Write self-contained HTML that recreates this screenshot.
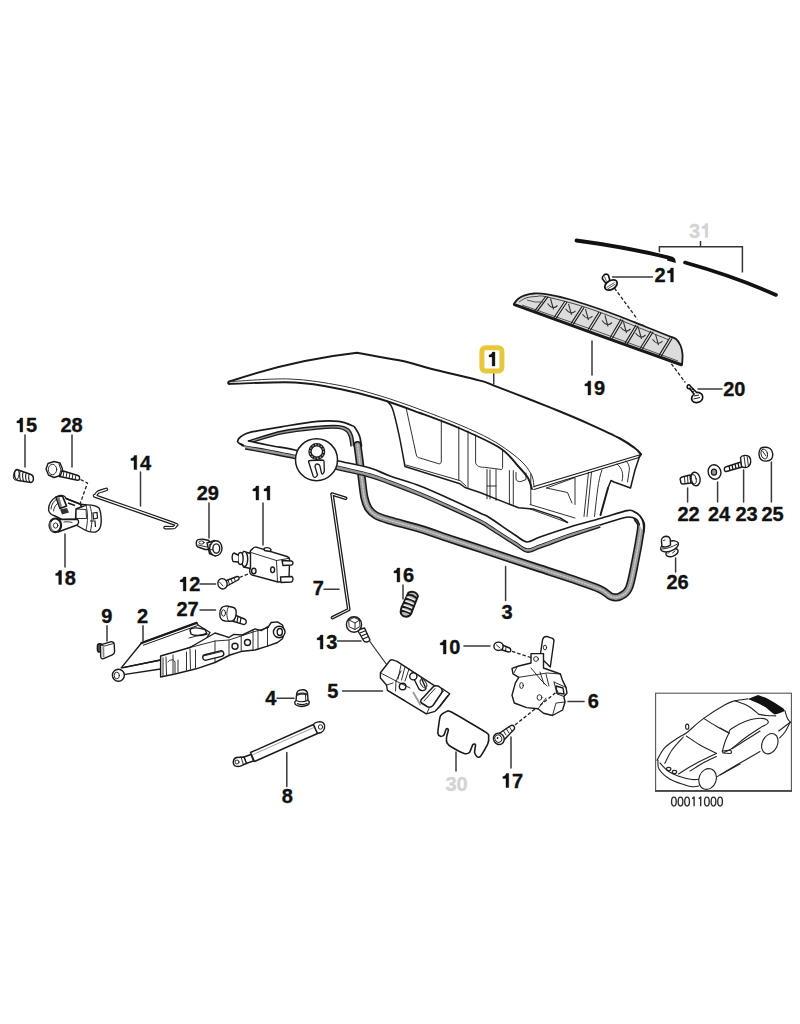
<!DOCTYPE html>
<html><head><meta charset="utf-8">
<style>
html,body{margin:0;padding:0;background:#fff;}
body{width:800px;height:1024px;overflow:hidden;}
svg{display:block;}
.lb text{font-family:"Liberation Sans",sans-serif;font-weight:bold;font-size:20px;text-anchor:start;fill:#111;}
.ld{stroke:#3a3a3a;stroke-width:1.5;fill:none;stroke-linecap:round;}
.k{stroke:#1a1a1a;fill:none;stroke-width:1.3;stroke-linejoin:round;stroke-linecap:round;}
.kf{stroke:#1a1a1a;fill:#fff;stroke-width:1.3;stroke-linejoin:round;stroke-linecap:round;}
.t{stroke:#1a1a1a;fill:none;stroke-width:0.8;stroke-linejoin:round;stroke-linecap:round;}
</style></head>
<body>
<svg width="800" height="1024" viewBox="0 0 800 1024">
<path d="M387.5 401.3 C388.3 402.6 390.6 403.4 392.5 408.8 C394.4 414.2 396.7 424.2 398.8 433.8 C400.9 443.4 404.0 461.1 405.0 466.5 L460 483.8 L465 487.5 L480 492.5 L518.4 507.8 L533 508.9 L560 517.9 L567.5 522.5" stroke="#1a1a1a" fill="none" stroke-width="1.5" stroke-linejoin="round" stroke-linecap="round"/>
<path d="M406 465 L460 480.6 L466 486" stroke="#1a1a1a" fill="none" stroke-width="0.9" stroke-linejoin="round" stroke-linecap="round"/>
<path d="M406.3 408.8 L416.3 455 C417 457 418 457.5 419 457.7 L438.8 463.8 C440.5 464 441.3 463 441.3 461 L441.3 420" stroke="#1a1a1a" fill="none" stroke-width="0.9" stroke-linejoin="round" stroke-linecap="round" stroke-width="1.1"/>
<path d="M458.8 426.9 V480 M468 431 V487.5" stroke="#1a1a1a" fill="none" stroke-width="0.9" stroke-linejoin="round" stroke-linecap="round"/>
<path d="M475.6 435 V462.8 C476 466 480 467.5 484.6 467.3 L501.5 469.5 C502.5 469 502.6 468 502.6 467 V449.3" stroke="#1a1a1a" fill="none" stroke-width="0.9" stroke-linejoin="round" stroke-linecap="round" stroke-width="1.2"/>
<path d="M487 469.5 V498.8 M490 470 V499 M496 469.5 V500.5 M487 486 H496 M509.4 470.6 V504.4 M513.3 470.6 V504.4 M530.8 474 V504.4" stroke="#1a1a1a" fill="none" stroke-width="0.9" stroke-linejoin="round" stroke-linecap="round" stroke-width="0.8"/>
<path d="M516 472.5 V479 C516 481 519 482 521 481.5 L526 479.5 V473" stroke="#1a1a1a" fill="none" stroke-width="0.9" stroke-linejoin="round" stroke-linecap="round"/>
<path d="M639.5 456.5 L635 470 L630.5 488 L614 482 L611 480.5 L608 488" stroke="#1a1a1a" fill="none" stroke-width="1.5" stroke-linejoin="round" stroke-linecap="round"/>
<path d="M608 488 L600.5 515" stroke="#1a1a1a" fill="none" stroke-width="2" stroke-linejoin="round" stroke-linecap="round"/>
<path d="M626 461 C629 464 630 468 629 472 L627.5 482 M617 464 C622 468 624 474 622 481 M546.5 488 L575 477.5 L575 504.5 M546.5 488 L567.5 492.5 L572 503 M588.5 472.3 L584 516.5 M591.5 472.3 L587 516.5 M602 470 C598 480 597 495 594.5 516.5" stroke="#1a1a1a" fill="none" stroke-width="0.9" stroke-linejoin="round" stroke-linecap="round"/>
<path d="M530 504.5 L575 518 M530 509 L567.5 522.5" stroke="#1a1a1a" fill="none" stroke-width="0.9" stroke-linejoin="round" stroke-linecap="round" stroke-width="1.1"/><path d="M576.5 240.5 C610 245 645 251.5 672 258.5" stroke="#111" stroke-width="3.8" fill="none" stroke-linecap="round"/>
<path d="M668 256 L675 258.5 L676 263 L667 260.5 Z" fill="#111"/>
<path d="M685 262.5 C715 271 745 281 776 295" stroke="#111" stroke-width="3.6" fill="none" stroke-linecap="round"/>
<path d="M229.5 381.5 Q293.2 360 357 352.8  C360.8 353.5 372.0 355.6 380.0 357.0 C388.0 358.4 396.7 359.6 405.0 361.5 C413.3 363.4 417.5 365.3 430.0 368.5 C442.5 371.7 469.3 377.8 480.0 380.6 C490.7 383.5 485.7 382.5 494.0 385.6 C502.3 388.8 519.0 395.2 530.0 399.5 C541.0 403.8 550.0 407.4 560.0 411.5 C570.0 415.6 580.0 419.8 590.0 424.3 C600.0 428.8 612.5 434.5 620.0 438.5 C627.5 442.5 631.5 445.7 635.0 448.3 C638.5 450.9 640.0 453.3 641.0 454.3" stroke="#1a1a1a" stroke-width="2.0" fill="none" stroke-linejoin="round" stroke-linecap="round" />
<path d="M231.0 381.5 C240.8 381.1 271.8 378.3 290.0 379.0 C308.2 379.7 325.0 382.7 340.0 385.5 C355.0 388.3 366.7 391.8 380.0 395.8 C393.3 399.8 406.7 404.6 420.0 409.5 C433.3 414.4 448.3 420.1 460.0 425.0 C471.7 429.9 481.7 434.5 490.0 439.0 C498.3 443.5 504.3 447.8 510.0 452.0 C515.7 456.2 520.3 460.0 524.0 464.0 C527.7 468.0 530.3 472.2 532.0 476.0 C533.7 479.8 533.7 485.2 534.0 487.0" stroke="#333" stroke-width="1.0" fill="none" stroke-linejoin="round" stroke-linecap="round" />
<path d="M231.0 383.8 C241.7 383.6 276.8 381.6 295.0 382.5 C313.2 383.4 325.8 386.2 340.0 389.0 C354.2 391.8 366.7 395.0 380.0 399.0 C393.3 403.0 406.7 408.1 420.0 413.0 C433.3 417.9 446.7 422.7 460.0 428.5 C473.3 434.3 490.3 441.8 500.0 448.0 C509.7 454.2 513.3 461.0 518.0 466.0 C522.7 471.0 525.7 474.2 528.0 478.0 C530.3 481.8 531.3 487.2 532.0 489.0" stroke="#1a1a1a" stroke-width="1.9" fill="none" stroke-linejoin="round" stroke-linecap="round" />
<path d="M229 381.5 C227.5 382.5 228 384 230 384" stroke="#1a1a1a" stroke-width="2.0" fill="none" stroke-linejoin="round" stroke-linecap="round" />
<path d="M534.0 486.5 L641.0 454.5 L639.0 457.5 L534.0 489.5" stroke="#1a1a1a" stroke-width="1.3" fill="none" stroke-linejoin="round" stroke-linecap="round" />
<path d="M641 454.5 L639.5 456.5" stroke="#1a1a1a" stroke-width="1.6" fill="none" stroke-linejoin="round" stroke-linecap="round" />
<path d="M357.5 445.0 C357.8 447.5 358.8 454.2 359.5 460.0 C360.2 465.8 361.2 473.7 362.0 480.0 C362.8 486.3 363.4 493.2 364.5 498.0 C365.6 502.8 366.6 505.6 368.5 508.5 C370.4 511.4 372.4 513.5 376.0 515.5 C379.6 517.5 382.7 518.3 390.0 520.5 C397.3 522.7 410.0 525.8 420.0 528.8 C430.0 531.8 440.0 535.5 450.0 538.8 C460.0 542.1 470.0 545.4 480.0 548.7 C490.0 552.0 500.0 555.3 510.0 558.6 C520.0 561.9 530.0 565.2 540.0 568.5 C550.0 571.8 560.0 574.9 570.0 578.4 C580.0 581.9 593.2 586.2 600.0 589.2 C606.8 592.2 607.7 595.3 611.0 596.5 C614.3 597.7 617.0 597.9 620.0 596.5 C623.0 595.1 626.4 594.1 629.0 588.0 C631.6 581.9 633.6 569.3 635.5 560.0 C637.4 550.7 639.6 538.0 640.5 532.0 C641.4 526.0 641.4 526.2 641.0 524.0 C640.6 521.8 638.5 519.8 638.0 519.0" stroke="#1a1a1a" stroke-width="8.2" fill="none" stroke-linejoin="round" stroke-linecap="round" />
<path d="M357.5 445.0 C357.8 447.5 358.8 454.2 359.5 460.0 C360.2 465.8 361.2 473.7 362.0 480.0 C362.8 486.3 363.4 493.2 364.5 498.0 C365.6 502.8 366.6 505.6 368.5 508.5 C370.4 511.4 372.4 513.5 376.0 515.5 C379.6 517.5 382.7 518.3 390.0 520.5 C397.3 522.7 410.0 525.8 420.0 528.8 C430.0 531.8 440.0 535.5 450.0 538.8 C460.0 542.1 470.0 545.4 480.0 548.7 C490.0 552.0 500.0 555.3 510.0 558.6 C520.0 561.9 530.0 565.2 540.0 568.5 C550.0 571.8 560.0 574.9 570.0 578.4 C580.0 581.9 593.2 586.2 600.0 589.2 C606.8 592.2 607.7 595.3 611.0 596.5 C614.3 597.7 617.0 597.9 620.0 596.5 C623.0 595.1 626.4 594.1 629.0 588.0 C631.6 581.9 633.6 569.3 635.5 560.0 C637.4 550.7 639.6 538.0 640.5 532.0 C641.4 526.0 641.4 526.2 641.0 524.0 C640.6 521.8 638.5 519.8 638.0 519.0" stroke="#999" stroke-width="5.0" fill="none" stroke-linejoin="round" stroke-linecap="round" />
<path d="M357.5 445.0 C357.8 447.5 358.8 454.2 359.5 460.0 C360.2 465.8 361.2 473.7 362.0 480.0 C362.8 486.3 363.4 493.2 364.5 498.0 C365.6 502.8 366.6 505.6 368.5 508.5 C370.4 511.4 372.4 513.5 376.0 515.5 C379.6 517.5 382.7 518.3 390.0 520.5 C397.3 522.7 410.0 525.8 420.0 528.8 C430.0 531.8 440.0 535.5 450.0 538.8 C460.0 542.1 470.0 545.4 480.0 548.7 C490.0 552.0 500.0 555.3 510.0 558.6 C520.0 561.9 530.0 565.2 540.0 568.5 C550.0 571.8 560.0 574.9 570.0 578.4 C580.0 581.9 593.2 586.2 600.0 589.2 C606.8 592.2 607.7 595.3 611.0 596.5 C614.3 597.7 617.0 597.9 620.0 596.5 C623.0 595.1 626.4 594.1 629.0 588.0 C631.6 581.9 633.6 569.3 635.5 560.0 C637.4 550.7 639.6 538.0 640.5 532.0 C641.4 526.0 641.4 526.2 641.0 524.0 C640.6 521.8 638.5 519.8 638.0 519.0" stroke="#c8c8c8" stroke-width="1.4" fill="none" stroke-linejoin="round" stroke-linecap="round" stroke-dasharray="1.6 1.6"/>
<path d="M248.5 440.8 C254.2 439.2 271.0 433.4 282.5 431.0 C294.0 428.6 308.2 427.3 317.5 426.4 C326.8 425.5 333.3 425.2 338.5 425.6 C343.7 426.0 346.2 427.3 348.5 429.0 C350.8 430.7 351.6 433.2 352.5 436.0 C353.4 438.8 353.8 444.3 354.0 446.0 L351 446 351.0 446.0 C350.8 444.5 350.2 439.4 349.5 437.0 C348.8 434.6 348.3 432.9 346.5 431.5 C344.7 430.1 343.3 428.7 338.5 428.3 C333.7 427.9 326.8 428.1 317.5 429.0 C308.2 429.9 293.6 431.3 282.5 433.6 C271.4 435.9 256.2 441.1 251.0 442.6Z" fill="#9a9a9a" stroke="none"/>
<path d="M361.5 446.0 C361.2 444.3 360.5 438.9 359.5 436.0 C358.5 433.1 356.7 430.2 355.5 428.5 C354.3 426.8 355.3 426.9 352.5 425.8 C349.7 424.6 344.3 422.1 338.5 421.4 C332.7 420.7 326.8 420.5 317.5 421.4 C308.2 422.3 293.6 424.8 282.5 426.6 C271.4 428.4 257.7 430.6 250.8 432.2 C243.8 433.9 243.2 435.0 241.0 436.5 C238.8 438.0 237.8 439.8 237.6 441.0 C237.3 442.2 238.6 442.8 239.5 443.5 C240.4 444.2 242.4 444.8 243.0 445.0" stroke="#1a1a1a" stroke-width="1.7" fill="none" stroke-linejoin="round" stroke-linecap="round" />
<path d="M248.5 440.8 C254.2 439.2 271.0 433.4 282.5 431.0 C294.0 428.6 308.2 427.3 317.5 426.4 C326.8 425.5 333.3 425.2 338.5 425.6 C343.7 426.0 346.2 427.3 348.5 429.0 C350.8 430.7 351.6 433.2 352.5 436.0 C353.4 438.8 353.8 444.3 354.0 446.0" stroke="#1a1a1a" stroke-width="1.4" fill="none" stroke-linejoin="round" stroke-linecap="round" />
<path d="M251.0 442.6 C256.2 441.1 271.4 435.9 282.5 433.6 C293.6 431.3 308.2 429.9 317.5 429.0 C326.8 428.1 333.7 427.9 338.5 428.3 C343.3 428.7 344.7 430.1 346.5 431.5 C348.3 432.9 348.8 434.6 349.5 437.0 C350.2 439.4 350.8 444.5 351.0 446.0" stroke="#1a1a1a" stroke-width="1.3" fill="none" stroke-linejoin="round" stroke-linecap="round" />
<path d="M643.7 532.0 C643.6 530.5 643.9 525.7 643.3 523.0 C642.7 520.3 641.5 517.9 640.0 516.0 C638.5 514.1 636.2 512.5 634.0 511.6 C631.8 510.7 632.7 509.5 627.0 510.6 C621.3 511.8 609.5 515.8 600.0 518.5 C590.5 521.2 580.0 523.9 570.0 527.0 C560.0 530.1 547.2 534.5 540.0 537.0 C532.8 539.5 531.2 542.3 527.0 542.0 C522.8 541.7 521.2 539.0 515.0 535.0 C508.8 531.0 495.8 521.7 490.0 518.0 C484.2 514.3 486.7 516.2 480.0 513.0 C473.3 509.8 460.0 503.5 450.0 499.0 C440.0 494.5 430.0 489.8 420.0 486.0 C410.0 482.2 398.3 479.0 390.0 476.0 C381.7 473.0 378.6 470.5 370.0 468.0 C361.4 465.5 347.5 463.0 338.5 461.0 C329.5 459.0 323.3 457.8 316.0 456.0 C308.7 454.2 302.4 451.8 294.8 450.0 C287.1 448.2 277.7 447.0 270.0 445.5 C262.3 444.0 252.1 441.8 248.5 441.0 L243 445 243.0 445.0 C243.2 445.2 239.5 445.1 244.0 446.0 C248.5 446.9 261.5 448.9 270.0 450.5 C278.5 452.1 287.1 453.8 294.8 455.5 C302.4 457.2 308.7 459.2 316.0 461.0 C323.3 462.8 329.5 464.3 338.5 466.5 C347.5 468.7 361.4 471.6 370.0 474.0 C378.6 476.4 381.7 477.9 390.0 481.0 C398.3 484.1 410.0 488.6 420.0 492.8 C430.0 496.9 440.0 501.5 450.0 506.0 C460.0 510.5 473.3 516.7 480.0 520.0 C486.7 523.3 484.2 522.3 490.0 526.0 C495.8 529.7 508.8 538.2 515.0 542.0 C521.2 545.8 522.8 548.5 527.0 549.0 C531.2 549.5 532.8 547.5 540.0 545.0 C547.2 542.5 560.0 537.3 570.0 534.0 C580.0 530.7 590.6 527.8 600.0 525.0 C609.4 522.2 620.5 518.2 626.5 517.2 C632.5 516.2 634.1 518.0 636.2 519.3 C638.4 520.5 638.9 523.8 639.4 524.7Z" fill="#fff" stroke="none"/>
<path d="M643.7 532.0 C643.6 530.5 643.9 525.7 643.3 523.0 C642.7 520.3 641.5 517.9 640.0 516.0 C638.5 514.1 636.2 512.5 634.0 511.6 C631.8 510.7 632.7 509.5 627.0 510.6 C621.3 511.8 609.5 515.8 600.0 518.5 C590.5 521.2 580.0 523.9 570.0 527.0 C560.0 530.1 547.2 534.5 540.0 537.0 C532.8 539.5 531.2 542.3 527.0 542.0 C522.8 541.7 521.2 539.0 515.0 535.0 C508.8 531.0 495.8 521.7 490.0 518.0 C484.2 514.3 486.7 516.2 480.0 513.0 C473.3 509.8 460.0 503.5 450.0 499.0 C440.0 494.5 430.0 489.8 420.0 486.0 C410.0 482.2 398.3 479.0 390.0 476.0 C381.7 473.0 378.6 470.5 370.0 468.0 C361.4 465.5 347.5 463.0 338.5 461.0 C329.5 459.0 323.3 457.8 316.0 456.0 C308.7 454.2 302.4 451.8 294.8 450.0 C287.1 448.2 277.7 447.0 270.0 445.5 C262.3 444.0 252.1 441.8 248.5 441.0" stroke="#1a1a1a" stroke-width="1.7" fill="none" stroke-linejoin="round" stroke-linecap="round" />
<path d="M639.4 524.7 C638.9 523.8 638.4 520.5 636.2 519.3 C634.1 518.0 632.5 516.2 626.5 517.2 C620.5 518.2 609.4 522.2 600.0 525.0 C590.6 527.8 580.0 530.7 570.0 534.0 C560.0 537.3 547.2 542.5 540.0 545.0 C532.8 547.5 531.2 549.5 527.0 549.0 C522.8 548.5 521.2 545.8 515.0 542.0 C508.8 538.2 495.8 529.7 490.0 526.0 C484.2 522.3 486.7 523.3 480.0 520.0 C473.3 516.7 460.0 510.5 450.0 506.0 C440.0 501.5 430.0 496.9 420.0 492.8 C410.0 488.6 398.3 484.1 390.0 481.0 C381.7 477.9 378.6 476.4 370.0 474.0 C361.4 471.6 347.5 468.7 338.5 466.5 C329.5 464.3 323.3 462.8 316.0 461.0 C308.7 459.2 302.4 457.2 294.8 455.5 C287.1 453.8 278.5 452.1 270.0 450.5 C261.5 448.9 248.5 446.9 244.0 446.0 C239.5 445.1 243.2 445.2 243.0 445.0" stroke="#1a1a1a" stroke-width="1.6" fill="none" stroke-linejoin="round" stroke-linecap="round" />
<path d="M600.0 525.0 C595.0 526.5 580.0 530.7 570.0 534.0 C560.0 537.3 547.2 542.5 540.0 545.0 C532.8 547.5 531.2 549.5 527.0 549.0 C522.8 548.5 521.2 545.8 515.0 542.0 C508.8 538.2 495.8 529.7 490.0 526.0 C484.2 522.3 486.7 523.3 480.0 520.0 C473.3 516.7 460.0 510.5 450.0 506.0 C440.0 501.5 430.0 496.9 420.0 492.8 C410.0 488.6 398.3 484.1 390.0 481.0 C381.7 477.9 378.6 476.4 370.0 474.0 C361.4 471.6 347.5 468.7 338.5 466.5 C329.5 464.3 323.3 462.8 316.0 461.0 C308.7 459.2 302.4 457.2 294.8 455.5 C287.1 453.8 278.5 452.1 270.0 450.5 C261.5 448.9 248.3 446.8 244.0 446.0 L245.5 449 245.5 449.0 C249.6 449.8 261.8 452.0 270.0 453.6 C278.2 455.2 287.1 456.8 294.8 458.6 C302.4 460.4 308.7 462.3 316.0 464.2 C323.3 466.1 329.5 467.6 338.5 469.8 C347.5 472.0 361.4 474.9 370.0 477.3 C378.6 479.7 381.7 481.2 390.0 484.3 C398.3 487.4 410.0 491.9 420.0 496.0 C430.0 500.1 440.0 504.7 450.0 509.2 C460.0 513.7 473.3 519.9 480.0 523.2 C486.7 526.5 484.2 525.5 490.0 529.2 C495.8 532.9 508.8 541.4 515.0 545.2 C521.2 549.0 522.8 551.7 527.0 552.2 C531.2 552.7 532.8 550.7 540.0 548.2 C547.2 545.7 560.0 540.7 570.0 537.2 C580.0 533.7 595.0 528.9 600.0 527.2Z" fill="#9a9a9a" stroke="none"/>
<path d="M600.0 527.2 C595.0 528.9 580.0 533.7 570.0 537.2 C560.0 540.7 547.2 545.7 540.0 548.2 C532.8 550.7 531.2 552.7 527.0 552.2 C522.8 551.7 521.2 549.0 515.0 545.2 C508.8 541.4 495.8 532.9 490.0 529.2 C484.2 525.5 486.7 526.5 480.0 523.2 C473.3 519.9 460.0 513.7 450.0 509.2 C440.0 504.7 430.0 500.1 420.0 496.0 C410.0 491.9 398.3 487.4 390.0 484.3 C381.7 481.2 378.6 479.7 370.0 477.3 C361.4 474.9 347.5 472.0 338.5 469.8 C329.5 467.6 323.3 466.1 316.0 464.2 C308.7 462.3 302.4 460.4 294.8 458.6 C287.1 456.8 278.2 455.2 270.0 453.6 C261.8 452.0 249.6 449.8 245.5 449.0" stroke="#1a1a1a" stroke-width="1.3" fill="none" stroke-linejoin="round" stroke-linecap="round" />
<circle cx="316.5" cy="459.7" r="21" fill="#fff" stroke="#1a1a1a" stroke-width="1.5"/>
<circle cx="316.8" cy="451.5" r="6.8" fill="none" stroke="#1a1a1a" stroke-width="3.4"/>
<circle cx="316.8" cy="451.5" r="6.8" fill="none" stroke="#aaa" stroke-width="1.2" stroke-dasharray="1.5 1.5"/>
<path d="M308.5 461.5 L313.2 476.3 C314 477.8 316 478 317.5 475 L315 466.6 C315.2 464.5 316.5 463.8 317.2 464 C318.8 464.2 319.6 465 319.8 465.6 L321.5 473.2 C322 474.5 323.5 474.5 324.3 471 L324 461 C323.5 460 322.5 460 321.5 460 L310.5 460.5 C309 460.7 308.3 461 308.5 461.5Z" fill="#fff" stroke="#1a1a1a" stroke-width="1.3" stroke-linejoin="round"/>
<path d="M513.8 304.0 C514.5 303.2 516.3 300.4 518.0 299.0 C519.7 297.6 521.3 296.5 524.0 295.6 C526.7 294.7 530.1 293.7 534.0 293.5 C537.9 293.3 541.5 293.4 547.5 294.4 C553.5 295.4 562.1 297.3 570.0 299.5 C577.9 301.7 586.7 304.7 595.0 307.5 C603.3 310.3 611.7 313.3 620.0 316.5 C628.3 319.7 636.7 323.2 645.0 326.5 C653.3 329.8 665.8 334.8 670.0 336.5 L670.0 336.5 C671.0 336.9 674.2 337.5 676.0 339.0 C677.8 340.5 679.4 343.0 680.5 345.5 C681.6 348.0 682.2 350.8 682.5 354.0 C682.8 357.2 682.1 363.2 682.0 365.0 L595 333.8 L513.75 304.4Z" fill="#dcdcdc" stroke="#1a1a1a" stroke-width="1.8" stroke-linejoin="round"/>
<path d="M682 365 L595 333.8 L513.75 304.4" stroke="#1a1a1a" stroke-width="3" fill="none"/>
<path d="M519.0 302.0 C520.2 301.3 523.2 298.9 526.0 298.0 C528.8 297.1 532.3 296.6 536.0 296.5 C539.7 296.4 538.2 294.9 548.0 297.2 C557.8 299.5 575.0 303.4 595.0 310.5 C615.0 317.6 655.8 334.7 668.0 339.5" stroke="#333" stroke-width="0.9" fill="none"/>
<path d="M522 305 L595 330.5 L678 361" stroke="#444" stroke-width="0.9" fill="none"/>
<path d="M546 296L535.0 310.6M548.2 296.7L537.2 311.4M565 301L554.0 317.5M567.2 301.7L556.2 318.3M582 306.5L571.0 323.6M584.2 307.2L573.2 324.4M599 312L588.0 329.7M601.2 312.7L590.2 330.5M621 319L610.0 337.7M623.2 319.7L612.2 338.5M636 325L625.0 343.1M638.2 325.7L627.2 343.9M651 331L640.0 348.5M653.2 331.7L642.2 349.3M670 337.5L659.0 355.4M672.2 338.2L661.2 356.2" stroke="#1a1a1a" stroke-width="1.1" fill="none"/>
<path d="M547.5 303.5Q552.5 310.5 557.5 305.5M550.5 298.5L553.5 309.5M565.5 308.8Q570.5 315.8 575.5 310.8M568.5 303.8L571.5 314.8M582.5 314.2Q587.5 321.2 592.5 316.2M585.5 309.2L588.5 320.2M602.0 320.5Q607.0 327.5 612.0 322.5M605.0 315.5L608.0 326.5M620.5 327.0Q625.5 334.0 630.5 329.0M623.5 322.0L626.5 333.0M635.5 333.0Q640.5 340.0 645.5 335.0M638.5 328.0L641.5 339.0M652.5 339.2Q657.5 346.2 662.5 341.2M655.5 334.2L658.5 345.2" stroke="#333" stroke-width="1.1" fill="none"/>
<path d="M527 300 Q535 303 543 302" stroke="#444" stroke-width="0.9" fill="none"/>
<path d="M614.4 288 L637.5 319.4" stroke="#222" stroke-width="1.3" stroke-dasharray="3.5 2" fill="none"/>
<path d="M671.4 363.8 L685.3 382.5" stroke="#222" stroke-width="1.3" stroke-dasharray="3.5 2" fill="none"/>
<path d="M603.5 275.5 C605 273.5 607.5 273.8 608.5 275.5 L610 281 L606 283.5 L602.5 279 C602 277.5 602.5 276.3 603.5 275.5Z" fill="#fff" stroke="#111" stroke-width="1.6" stroke-linejoin="round"/>
<ellipse cx="611" cy="285" rx="6.8" ry="4.3" transform="rotate(-32 611 285)" fill="#fff" stroke="#111" stroke-width="1.8"/>
<path d="M606.5 287.5 L614.5 282.5 M607.5 289 L615.5 284" stroke="#444" stroke-width="0.9" fill="none"/>
<path d="M604.5 276.5 L606.5 281.5" stroke="#444" stroke-width="0.9" fill="none"/>
<path d="M688 385 C686.5 386.5 687 389 689.5 388.5 L694 394 C692 396 691 399 692.5 401 C694.5 403.5 699 403 701.5 400.5 C703.5 398 703 394.5 700.5 393.2 C699 392.3 697.5 392.3 696.8 392.5 L690.5 386.2 C690 385 689 384.5 688 385Z" fill="#fff" stroke="#111" stroke-width="1.6"/>
<path d="M689.5 389 L692 387.2 M691 390.5 L693.5 388.7 M692.5 392 L695 390.3 M694 396 L699 395 M693.5 399 L700 397.5" stroke="#222" stroke-width="1" fill="none"/><path d="M17 469.5 L31 474.5 C34 475.5 34.5 481.5 31 482.5 L18 480.5 C13.5 479.5 13.5 470 17 469.5Z" stroke="#1a1a1a" fill="#fff" stroke-width="1.4" stroke-linejoin="round" stroke-linecap="round"/>
<ellipse cx="16.3" cy="475" rx="2.8" ry="5.2" transform="rotate(12 16.3 475)" stroke="#1a1a1a" fill="none" stroke-width="0.9" stroke-linejoin="round" stroke-linecap="round"/>
<path d="M20.5 470.5 C19 473 19.5 479 21 481 M23.5 471.5 C22 474 22.5 479.5 24 481.5 M26.5 472.5 C25 475 25.5 480 27 482 M29.5 473.5 C28 476 28.5 480.5 30 482.3" stroke="#222" stroke-width="1.1" fill="none"/>
<path d="M60 470 L78 475.5 C80.5 476.5 80 480.5 77.5 480.3 L59.5 476.5Z" stroke="#1a1a1a" fill="#fff" stroke-width="1.4" stroke-linejoin="round" stroke-linecap="round"/>
<path d="M64 471 L63 477 M67 472 L66 478 M70 473 L69 479 M73 474 L72 479.5 M76 475 L75 480" stroke="#222" stroke-width="1" fill="none"/>
<path d="M48 463.5 L54 461.5 L60 463 L62.5 469 L60.5 475.5 L54 477.5 L48.5 475 L46 469Z" stroke="#1a1a1a" fill="#fff" stroke-width="1.4" stroke-linejoin="round" stroke-linecap="round" stroke-width="1.6"/>
<ellipse cx="52.5" cy="469.5" rx="4.2" ry="5.2" stroke="#1a1a1a" fill="none" stroke-width="0.9" stroke-linejoin="round" stroke-linecap="round"/>
<path d="M59 464 L61 470 L59 476" stroke="#1a1a1a" fill="none" stroke-width="0.9" stroke-linejoin="round" stroke-linecap="round"/>
<path d="M80.5 479.5 L87.5 483 L80 504 L79 507" stroke="#222" stroke-width="1.3" stroke-dasharray="3.5 2" fill="none"/>
<path d="M84 505 C90 504.5 96 505.5 99 508 C100.5 511 101.3 516 101.2 522 C101 527.5 99 531 95.5 532 C91 532.5 87.5 531.5 85 530 L76 525 L75.5 509 Z" stroke="#1a1a1a" fill="#fff" stroke-width="1.4" stroke-linejoin="round" stroke-linecap="round" stroke-width="1.8"/>
<path d="M86 505.5 C88 512 88 522 86 530 M90 506 C92.5 513 92.5 523 90.5 531 M75.5 509 L86 509.5 L86.5 518.5 L76 518.5" stroke="#1a1a1a" fill="none" stroke-width="0.9" stroke-linejoin="round" stroke-linecap="round" stroke-width="1.1"/>
<path d="M93 513 L97 512.5 L97.5 518 L93.5 519Z M90 521 L95 521 L95.5 527" fill="none" stroke="#1a1a1a" stroke-width="1.2"/>
<path d="M48.6 510 C48.5 505 51 500 56 497 L60 495.5 C63 495 65.5 496.5 66 498.5 L80 504 L86 505 L76 509 L75.5 519 L62 519.5 L55 516 C51.5 515 49 513 48.6 510Z" stroke="#1a1a1a" fill="#fff" stroke-width="1.4" stroke-linejoin="round" stroke-linecap="round" stroke-width="1.8"/>
<path d="M51 509 C51.5 504 54 500.5 57 499 M53.5 511 C54 507 56 504 58.5 503" stroke="#1a1a1a" fill="none" stroke-width="0.9" stroke-linejoin="round" stroke-linecap="round" stroke-width="1.1"/>
<path d="M56 497 L62.5 496 L66.5 506 L60 508.5 Z" fill="#fff" stroke="#1a1a1a" stroke-width="1.7" stroke-linejoin="round"/>
<path d="M57 498 L59.5 497.5 L62 506.5 L60 507.5 Z" fill="#777"/>
<path d="M60 509.5 L67 508 L69 512.5 L62 514.5 Z" fill="#333"/>
<path d="M66 498.5 L80 504 L82 507 M68 503 L75 505.5" stroke="#1a1a1a" stroke-width="1.5" fill="none"/>
<path d="M57 519.5 L77.5 519.5 C79 520.5 79 524 77 525 L58 532 Z" stroke="#1a1a1a" fill="#fff" stroke-width="1.4" stroke-linejoin="round" stroke-linecap="round" stroke-width="1.6"/>
<path d="M64 522 C67 521.5 70 521.8 72 522.5" stroke="#1a1a1a" fill="none" stroke-width="0.9" stroke-linejoin="round" stroke-linecap="round"/>
<ellipse cx="55.3" cy="525.3" rx="5.8" ry="6.8" fill="#fff" stroke="#1a1a1a" stroke-width="2.2"/>
<path d="M50.5 522 C50 525 50.5 529 53 531" stroke="#777" stroke-width="1.6" fill="none"/>
<ellipse cx="55.6" cy="525.5" rx="2.2" ry="2.6" stroke="#1a1a1a" fill="none" stroke-width="0.9" stroke-linejoin="round" stroke-linecap="round" stroke-width="1.2"/>
<path d="M106.3 489.4 C105.5 489.7 99.0 491.6 98.0 492.2 C97.0 492.8 95.7 495.0 95.8 495.5 C95.9 496.0 91.4 494.8 99.0 497.5 C106.6 500.2 164.3 520.2 172.0 523.0 C179.7 525.8 175.7 524.7 175.8 525.2 C176.0 525.7 174.6 527.4 173.5 527.6 C172.4 527.8 165.8 527.6 165.0 527.6" stroke="#1a1a1a" stroke-width="3.6" fill="none" stroke-linejoin="round" stroke-linecap="round"/>
<path d="M106.3 489.4 C105.5 489.7 99.0 491.6 98.0 492.2 C97.0 492.8 95.7 495.0 95.8 495.5 C95.9 496.0 91.4 494.8 99.0 497.5 C106.6 500.2 164.3 520.2 172.0 523.0 C179.7 525.8 175.7 524.7 175.8 525.2 C176.0 525.7 174.6 527.4 173.5 527.6 C172.4 527.8 165.8 527.6 165.0 527.6" stroke="#fff" stroke-width="1.3" fill="none" stroke-linejoin="round" stroke-linecap="round"/>
<path d="M196.5 541.5 C197 539.5 200 539 203 539.2 L209 540.5 L211 549.5 L205 549.5 L198 547 C196.5 546.3 196 544 196.5 541.5Z" stroke="#1a1a1a" fill="#fff" stroke-width="1.4" stroke-linejoin="round" stroke-linecap="round" stroke-width="1.6"/>
<ellipse cx="201.5" cy="542.5" rx="2.6" ry="1.6" stroke="#1a1a1a" fill="none" stroke-width="0.9" stroke-linejoin="round" stroke-linecap="round" stroke-width="1.2"/>
<path d="M198 545 L207 547" stroke="#1a1a1a" fill="none" stroke-width="0.9" stroke-linejoin="round" stroke-linecap="round"/>
<path d="M207 543 L214.5 540.5 L215.5 556 L209.5 553.5 Z" stroke="#1a1a1a" fill="#fff" stroke-width="1.4" stroke-linejoin="round" stroke-linecap="round" stroke-width="1.6"/>
<ellipse cx="215.8" cy="548.3" rx="6.2" ry="7.6" stroke="#1a1a1a" fill="#fff" stroke-width="1.4" stroke-linejoin="round" stroke-linecap="round" stroke-width="2"/>
<ellipse cx="216.3" cy="548.5" rx="3.4" ry="4.6" stroke="#1a1a1a" fill="none" stroke-width="1.4" stroke-linejoin="round" stroke-linecap="round" stroke-width="1.5"/>
<path d="M209 545 L212 544 M209.5 550 L212.5 549.5" stroke="#1a1a1a" fill="none" stroke-width="0.9" stroke-linejoin="round" stroke-linecap="round"/>
<path d="M252.5 548.8 C253.5 547.3 255.5 547 257 547.3 L287 556.5 C289 557.2 289.8 558.5 289.6 560.5 L289 578.5 C288.8 580.5 287.5 581.5 285.5 581.5 L278 582 L252 575 C250.5 574.5 249.8 573.5 249.8 572 L250 553 C250 551 251 549.6 252.5 548.8Z" stroke="#1a1a1a" fill="#fff" stroke-width="1.4" stroke-linejoin="round" stroke-linecap="round" stroke-width="1.6"/>
<path d="M251 552.5 L276.5 560.5 L289.3 558.3 M276.5 560.5 L277.5 581.7" stroke="#1a1a1a" fill="none" stroke-width="0.9" stroke-linejoin="round" stroke-linecap="round" stroke-width="1.2"/>
<path d="M282 560.5 L291.5 561 C293.5 561.5 293.5 564.5 291.5 565 L283 565.5 Z M280.5 577 L291.5 576.5 C293.5 577 293.5 581 291.5 582 L281 582.5 Z" stroke="#1a1a1a" fill="#fff" stroke-width="1.4" stroke-linejoin="round" stroke-linecap="round" stroke-width="1.3"/>
<path d="M264 549 C264.5 547 270 547.3 271 549.5 L270.5 551.5 L264.5 550.5Z" stroke="#1a1a1a" fill="#fff" stroke-width="1.4" stroke-linejoin="round" stroke-linecap="round" stroke-width="1.2"/>
<ellipse cx="272.6" cy="569.8" rx="2" ry="2.8" stroke="#1a1a1a" fill="none" stroke-width="1.4" stroke-linejoin="round" stroke-linecap="round" stroke-width="1.2"/><ellipse cx="253.8" cy="571" rx="2.2" ry="2.8" stroke="#1a1a1a" fill="none" stroke-width="1.4" stroke-linejoin="round" stroke-linecap="round" stroke-width="1.3"/>
<path d="M243.5 551.5 L250.5 553.5 L250.5 568.5 L243.5 567 Z" stroke="#1a1a1a" fill="#fff" stroke-width="1.4" stroke-linejoin="round" stroke-linecap="round" stroke-width="1.3"/>
<ellipse cx="244.5" cy="559" rx="3.2" ry="7.6" stroke="#1a1a1a" fill="#fff" stroke-width="1.4" stroke-linejoin="round" stroke-linecap="round" stroke-width="1.6"/><ellipse cx="240.5" cy="558.5" rx="2.6" ry="6" stroke="#1a1a1a" fill="#fff" stroke-width="1.4" stroke-linejoin="round" stroke-linecap="round" stroke-width="1.4"/>
<path d="M238 555 L234 553 C232 553.5 231.5 558.5 233 561.5 L238 562" stroke="#1a1a1a" fill="#fff" stroke-width="1.4" stroke-linejoin="round" stroke-linecap="round" stroke-width="1.5"/>
<path d="M224 581.5 L237 576.5 C239.5 576 240 579 238 580 L226 586.5Z" stroke="#1a1a1a" fill="#fff" stroke-width="1.4" stroke-linejoin="round" stroke-linecap="round" stroke-width="1.2"/>
<path d="M228 580 L229.5 584.5 M231 578.8 L232.5 583 M234 577.6 L235.5 581.7" stroke="#1a1a1a" fill="none" stroke-width="0.9" stroke-linejoin="round" stroke-linecap="round"/>
<ellipse cx="222.5" cy="583.8" rx="4.6" ry="5.2" transform="rotate(-20 222.5 583.8)" stroke="#1a1a1a" fill="#fff" stroke-width="1.4" stroke-linejoin="round" stroke-linecap="round" stroke-width="2"/>
<path d="M219.5 582 L223 586" stroke="#1a1a1a" fill="none" stroke-width="0.9" stroke-linejoin="round" stroke-linecap="round"/>
<path d="M239.5 577.5 L249.5 573.5" stroke="#222" stroke-width="1.3" stroke-dasharray="3.5 2" fill="none"/>
<path d="M231 613.5 L244.5 619 C247 620 247 624 244 624.6 L230.5 620.5Z" stroke="#1a1a1a" fill="#fff" stroke-width="1.4" stroke-linejoin="round" stroke-linecap="round" stroke-width="1.4"/>
<path d="M235 615 L234 621 M238 616.3 L237 622.2 M241 617.6 L240 623.3" stroke="#1a1a1a" stroke-width="1.2" fill="none"/>
<path d="M221.5 608 C223 606 227 605.5 229.5 606.5 L233.5 607.5 C236 608.5 236.5 612 236 615 C235.5 618.5 233.5 621 230.5 621.3 L225 621 C221.5 620.5 219.8 617.5 219.8 614 C219.8 611 220.3 609.3 221.5 608Z" stroke="#1a1a1a" fill="#fff" stroke-width="1.4" stroke-linejoin="round" stroke-linecap="round" stroke-width="1.8"/>
<path d="M228.5 607 C226.5 609.5 226 617 228.5 620.8" stroke="#1a1a1a" fill="none" stroke-width="0.9" stroke-linejoin="round" stroke-linecap="round" stroke-width="1.2"/>
<ellipse cx="223.5" cy="613" rx="2" ry="3.2" stroke="#1a1a1a" fill="none" stroke-width="0.9" stroke-linejoin="round" stroke-linecap="round"/>
<path d="M97.5 645.5 C97.5 644 99 643.5 101 643.8 L101.5 652 L98.5 652 C97.5 651.5 97.3 650 97.4 648Z" fill="#555" stroke="#1a1a1a" stroke-width="1.5" stroke-linejoin="round"/>
<path d="M100.5 644.8 L110.5 641.8 C112.5 641.3 114 642.3 114.2 644.2 L114.6 651.5 C114.6 653 113.8 654.2 112.3 654.8 L103.5 658.6 C102 659.2 100.8 658.3 100.7 656.8 Z" stroke="#1a1a1a" fill="#fff" stroke-width="1.4" stroke-linejoin="round" stroke-linecap="round" stroke-width="1.8"/>
<path d="M103.3 646.5 L103.6 657.3" stroke="#888" stroke-width="1.8" fill="none"/>
<path d="M101 645 L104.5 646 L113.5 643.5" stroke="#1a1a1a" fill="none" stroke-width="0.9" stroke-linejoin="round" stroke-linecap="round"/>
<path d="M121.2 667.9 L141.5 643.0 L196.6 622.9 L198.0 625.0 L210.0 632.5 L205.0 641.0 L190.0 647.5 L160.6 660.0Z" stroke="#1a1a1a" fill="#fff" stroke-width="1.4" stroke-linejoin="round" stroke-linecap="round" stroke-width="1.3"/>
<path d="M141.5 643 L196.6 622.9" stroke="#1a1a1a" stroke-width="2.2" fill="none" stroke-linecap="round"/>
<path d="M143 645.3 L197.5 625.6" stroke="#1a1a1a" stroke-width="1" fill="none"/>
<path d="M190 630 C191 627.5 197 627 205 629.5 L207 634 C201 636 194 636 191 634 Z" stroke="#1a1a1a" fill="#fff" stroke-width="1.4" stroke-linejoin="round" stroke-linecap="round" stroke-width="1.2"/>
<path d="M189 638 L206 633.5" stroke="#1a1a1a" fill="none" stroke-width="0.9" stroke-linejoin="round" stroke-linecap="round"/>
<path d="M160.6 656.0 L190.0 647.5 L215.0 633.0 L225.0 636.2 L228.8 637.5 L233.8 634.4 L242.5 635.0 L255.0 628.8 L261.2 630.6 L268.8 626.2 L271.2 622.5 L277.5 621.9 L282.5 625.0 L284.4 631.2 L282.5 638.8 L277.5 642.5 L267.5 646.2 L255.0 650.0 L242.5 651.2 L230.0 655.0 L215.0 662.5 L196.2 668.8 L175.0 674.0 L160.6 677.0Z" stroke="#1a1a1a" fill="#fff" stroke-width="1.4" stroke-linejoin="round" stroke-linecap="round" stroke-width="1.6"/>
<path d="M163 657.8 L163 675.8 M166 657 L166.5 675 M173 655 L173 673.5 M186.5 652 L186.5 670 M190 649 L190.5 669 M195.5 650 L195.5 668 M215 641 L215 662.5 M229 640 L229 655 M241.2 636 L241.2 651.3 M253 630 L253 650 M258 631 L258 649.5 M267.5 627.5 L267.5 646.3 M190 647.5 L215 641 L229 640 L241.2 636 L253 632 L268.7 627.5" stroke="#1a1a1a" fill="none" stroke-width="0.9" stroke-linejoin="round" stroke-linecap="round" stroke-width="1"/>
<rect x="202.5" y="652.8" width="21.5" height="5.6" rx="2.8" transform="rotate(-14 213 655.5)" stroke="#1a1a1a" fill="#fff" stroke-width="1.4" stroke-linejoin="round" stroke-linecap="round" stroke-width="1.4"/>
<path d="M205 655.6 L221.5 651.6" stroke="#1a1a1a" fill="none" stroke-width="0.9" stroke-linejoin="round" stroke-linecap="round"/>
<circle cx="235" cy="646.3" r="3" stroke="#1a1a1a" fill="none" stroke-width="1.4" stroke-linejoin="round" stroke-linecap="round" stroke-width="1.2"/><circle cx="247.5" cy="642.5" r="3" stroke="#1a1a1a" fill="none" stroke-width="1.4" stroke-linejoin="round" stroke-linecap="round" stroke-width="1.2"/>
<circle cx="279.2" cy="632" r="5.8" stroke="#1a1a1a" fill="#fff" stroke-width="1.4" stroke-linejoin="round" stroke-linecap="round" stroke-width="1.7"/><ellipse cx="279.8" cy="632" rx="2.6" ry="3.5" stroke="#1a1a1a" fill="none" stroke-width="1.4" stroke-linejoin="round" stroke-linecap="round" stroke-width="1.3"/>
<path d="M122.4 667.9 L160.6 660 M123.5 674.6 L160.6 669" stroke="#1a1a1a" stroke-width="1.3" fill="none"/>
<circle cx="118.4" cy="675.2" r="6" stroke="#1a1a1a" fill="#fff" stroke-width="1.4" stroke-linejoin="round" stroke-linecap="round" stroke-width="1.7"/><ellipse cx="116.8" cy="675.5" rx="2.6" ry="3.4" stroke="#1a1a1a" fill="none" stroke-width="0.9" stroke-linejoin="round" stroke-linecap="round" stroke-width="1.1"/>
<path d="M168 662 C170 659 174 659 175 662 L175 673 M178 660 L178 672" stroke="#1a1a1a" fill="none" stroke-width="0.9" stroke-linejoin="round" stroke-linecap="round"/>
<path d="M297 692.5 C298 690.3 301.5 689.5 303.5 689.8 C306 690.2 307.5 692 307.6 694 L308 700.3 C309.8 701.3 309.7 704 307.6 705 C304 706.6 299 706.6 296.2 705 C294.3 704 294.3 701.5 296 700.5 L296.6 694.5 Z" stroke="#1a1a1a" fill="#fff" stroke-width="1.4" stroke-linejoin="round" stroke-linecap="round" stroke-width="2"/>
<path d="M297 693.5 C300 692 304.5 692 307.4 693.5 L307.5 695.5 C304.5 694.5 300 694.5 296.8 696 Z" fill="#333"/>
<path d="M296 700.5 C299.5 702 304.5 702 308 700.3 M297 703.5 C300 704.8 304.5 704.8 307.5 703.3" stroke="#1a1a1a" stroke-width="1.2" fill="none"/>
<path d="M305.5 694 L305.8 700.5" stroke="#1a1a1a" fill="none" stroke-width="0.9" stroke-linejoin="round" stroke-linecap="round"/>
<path d="M250.5 752.5 L313.5 724.5 L317.5 733.5 L254.5 761.5 Z" stroke="#1a1a1a" fill="#fff" stroke-width="1.4" stroke-linejoin="round" stroke-linecap="round" stroke-width="1.6"/>
<path d="M252 755 L315 727" stroke="#888" stroke-width="0.8" fill="none"/>
<path d="M313.5 724.5 C315 722 321 720.5 323.5 723 C326 726 324.5 731 321 732.5 L317.5 733.5 Z" stroke="#1a1a1a" fill="#fff" stroke-width="1.4" stroke-linejoin="round" stroke-linecap="round" stroke-width="1.5"/>
<circle cx="320.5" cy="727" r="2.2" stroke="#1a1a1a" fill="none" stroke-width="0.9" stroke-linejoin="round" stroke-linecap="round" stroke-width="1.1"/>
<path d="M244 757 L251 754.5 L253.5 761 L246 763.5 Z" stroke="#1a1a1a" fill="#fff" stroke-width="1.4" stroke-linejoin="round" stroke-linecap="round" stroke-width="1.3"/>
<path d="M236.5 757.5 C233 758.5 232 764 235 765.8 C237.5 767 241.5 766.5 243.5 764.5 L246.5 763.5 L244 757 Z" stroke="#1a1a1a" fill="#fff" stroke-width="1.4" stroke-linejoin="round" stroke-linecap="round" stroke-width="1.6"/>
<circle cx="237" cy="762" r="2" stroke="#1a1a1a" fill="none" stroke-width="0.9" stroke-linejoin="round" stroke-linecap="round" stroke-width="1.1"/><path d="M241 757 L243.5 765" stroke="#1a1a1a" fill="none" stroke-width="0.9" stroke-linejoin="round" stroke-linecap="round"/>
<path d="M357.5 630 L363.5 640.5 C365 643 369 642 370 640 L364.5 628Z" stroke="#1a1a1a" fill="#fff" stroke-width="1.4" stroke-linejoin="round" stroke-linecap="round" stroke-width="1.4"/>
<path d="M360 633 L366 630.5 M361.5 636 L367.5 633.5 M363 639 L368.5 636.5" stroke="#1a1a1a" stroke-width="1.1" fill="none"/>
<ellipse cx="354" cy="624.5" rx="7.6" ry="7.8" stroke="#1a1a1a" fill="#fff" stroke-width="1.4" stroke-linejoin="round" stroke-linecap="round" stroke-width="1.7"/>
<path d="M349 620 L354 617.5 L359.5 620 L360 626.5 L355 629.5 L349.5 627 Z M349 620 L355 623 L359.5 620 M355 623 L355 629.5" stroke="#1a1a1a" fill="none" stroke-width="0.9" stroke-linejoin="round" stroke-linecap="round" stroke-width="1.1"/>
<path d="M369.5 641 L402.6 686.5" stroke="#222" stroke-width="1.1" fill="none"/><path d="M345.6 498.3 L332.0 494.0 L348.8 609.5 L332.5 617.7" stroke="#1a1a1a" stroke-width="3.6" fill="none" stroke-linejoin="round" stroke-linecap="round"/>
<path d="M345.6 498.3 L332.0 494.0 L348.8 609.5 L332.5 617.7" stroke="#fff" stroke-width="1.0" fill="none" stroke-linejoin="round" stroke-linecap="round"/>
<path d="M408.5 592.5 C412.5 590.8 417 592.2 418 596 L411 614 C409 617.5 403.5 617.5 401.5 614.5 C400.3 612.5 400.5 610 401.5 607.5Z" fill="#bbb" stroke="#1a1a1a" stroke-width="1.9"/>
<path d="M407.5 595 C410 594.5 414 596 416.5 598 M406 599 C409 598.5 412.5 600 415 602 M404.5 603 C407.5 602.5 410.5 604 413.5 606 M403 607 C406 606.5 409 608 412 610 M402 611 C405 610.5 407.5 612 410.5 613.5" stroke="#1a1a1a" stroke-width="2" fill="none" stroke-linecap="round"/>
<path d="M407 597 L414.5 600 M405.5 601 L413 604 M404 605 L411.5 608 M402.8 609 L410 612" stroke="#fff" stroke-width="1.1" fill="none" stroke-linecap="round"/>
<path d="M391.8 659.7 L390.0 660.5 L380.4 672.8 L380.4 678.0 L386.5 685.0 L387.4 690.3 L426.3 713.8 L435.0 711.3 L440.0 706.3 L449.7 693.8 L442.5 688.8 L434.4 685.6 L397.0 661.4Z" stroke="#1a1a1a" fill="#fff" stroke-width="1.4" stroke-linejoin="round" stroke-linecap="round" stroke-width="1.8"/>
<path d="M380.4 672.8 L396 681 L401 671 M396 681 L395.5 691 M386.5 685 L393 683 M401 665 L398 679 M405 667 L401.5 680 M409 669 L405 681 M396 681 L410 688 M387.4 690.3 L405 700.6" stroke="#1a1a1a" fill="none" stroke-width="0.9" stroke-linejoin="round" stroke-linecap="round"/>
<circle cx="402.6" cy="686.5" r="3.3" stroke="#1a1a1a" fill="none" stroke-width="1.4" stroke-linejoin="round" stroke-linecap="round" stroke-width="1.3"/>
<path d="M414 679 L419 689 C421 691.5 425 691 426 688.5 L421.5 678.5" stroke="#1a1a1a" fill="#fff" stroke-width="1.4" stroke-linejoin="round" stroke-linecap="round" stroke-width="1.4"/>
<ellipse cx="423.5" cy="683.5" rx="2.6" ry="4.6" transform="rotate(-30 423.5 683.5)" fill="none" stroke="#444" stroke-width="1.2"/>
<circle cx="413.3" cy="676.3" r="3.6" stroke="#1a1a1a" fill="#fff" stroke-width="1.4" stroke-linejoin="round" stroke-linecap="round" stroke-width="1.5"/>
<path d="M421 700 L433.5 686.5 C435 685.5 437 685.5 439 686.5 L441.5 688.5 C442.5 690 442.5 691.5 441.5 693 L433 705.5 C431.5 707 429 707.5 427 706.5 L421.5 703 C420.5 702 420.5 701 421 700Z" fill="#fff" stroke="#1a1a1a" stroke-width="1.5" stroke-linejoin="round"/>
<path d="M424 701 L435 688.5 M427 713 L429 708.5 M441.5 693 L444.5 690.5 M436 710.5 L447.5 695.5" stroke="#1a1a1a" fill="none" stroke-width="0.9" stroke-linejoin="round" stroke-linecap="round"/>
<path d="M413 692 L420.5 705" stroke="#999" stroke-width="1.8" fill="none"/>
<path d="M446.6 711.4 C445.3 711.8 441.4 714.3 440.5 715.8 C439.6 717.3 439.1 722.5 438.8 724.5 C438.5 726.5 437.7 731.9 437.9 733.3 C438.1 734.7 439.8 736.1 440.5 736.3 C441.2 736.5 443.3 735.9 444.0 735.0 C444.7 734.1 445.7 729.5 446.2 728.9 C446.7 728.3 448.4 728.9 448.4 729.8 C448.4 730.7 446.8 735.3 446.6 736.8 C446.4 738.3 446.4 741.7 447.0 742.9 C447.6 744.1 449.9 746.1 451.9 747.3 C453.9 748.5 462.1 752.8 464.1 753.4 C466.1 754.0 468.4 753.5 469.4 752.5 C470.4 751.5 472.2 745.5 472.9 744.6 C473.6 743.7 475.3 743.7 475.5 744.6 C475.7 745.5 474.4 751.1 474.6 752.5 C474.8 753.9 476.6 756.5 477.3 756.9 C478.0 757.3 479.6 757.5 480.8 756.0 C482.0 754.5 486.9 746.0 487.8 743.8 C488.7 741.6 488.8 738.1 488.6 736.8 C488.4 735.5 490.3 735.3 486.0 732.4 C481.7 729.5 456.5 714.8 451.9 712.3 C447.3 709.8 447.9 711.0 446.6 711.4Z" fill="#fff" stroke="#1a1a1a" stroke-width="1.6" stroke-linejoin="round"/>
<path d="M500 644 L509.5 648 C511.5 649 511 652.5 508.5 652 L499 649Z" stroke="#1a1a1a" fill="#fff" stroke-width="1.4" stroke-linejoin="round" stroke-linecap="round" stroke-width="1.2"/>
<path d="M503 645.5 L502.5 650 M506 646.8 L505.5 651.2" stroke="#1a1a1a" fill="none" stroke-width="0.9" stroke-linejoin="round" stroke-linecap="round"/>
<ellipse cx="498.5" cy="646.3" rx="4.6" ry="4.2" stroke="#1a1a1a" fill="#fff" stroke-width="1.4" stroke-linejoin="round" stroke-linecap="round" stroke-width="1.5"/><path d="M496.5 645 L500 648" stroke="#1a1a1a" fill="none" stroke-width="0.9" stroke-linejoin="round" stroke-linecap="round"/>
<path d="M512 651.4 L532.3 658" stroke="#222" stroke-width="1.3" stroke-dasharray="3.5 2" fill="none"/>
<path d="M540 657 L542.6 639.5 C543.5 637 546 636.3 548 636.8 L552.5 638.3 C554 639.2 554.2 640.5 553.8 642 L550.3 667 Z" stroke="#1a1a1a" fill="#fff" stroke-width="1.4" stroke-linejoin="round" stroke-linecap="round" stroke-width="1.8"/>
<ellipse cx="545" cy="647.5" rx="1.6" ry="2.4" stroke="#1a1a1a" fill="none" stroke-width="0.9" stroke-linejoin="round" stroke-linecap="round" stroke-width="1.1"/>
<path d="M512.0 668.3 L518.8 666.0 L531.0 663.0 L531.0 653.6 L543.5 653.6 L543.5 668.0 L560.4 674.0 L562.6 680.6 L566.0 687.4 L567.0 693.0 L563.8 696.4 L565.0 702.0 L562.6 710.0 L552.5 715.5 L543.5 713.3 L538.0 708.8 L526.6 707.6 L514.3 703.0 L512.0 695.3 L515.4 682.9 L518.8 677.3 L513.0 673.9Z" stroke="#1a1a1a" fill="#fff" stroke-width="1.4" stroke-linejoin="round" stroke-linecap="round" stroke-width="2"/>
<circle cx="536" cy="659" r="2.4" stroke="#1a1a1a" fill="none" stroke-width="0.9" stroke-linejoin="round" stroke-linecap="round" stroke-width="1.1"/>
<path d="M518.8 677.3 L547 673 L560.4 674 M531 668 L541 680 L547 686 M540 672 L544 684 M546 674 L549 686 M554 682 L566 687.4 M554 682 L557 694 L563.8 696.4 M552.5 715.5 L556 703 L565 702 M538 708.8 L546 698 M514 673 L517 667" stroke="#1a1a1a" fill="none" stroke-width="0.9" stroke-linejoin="round" stroke-linecap="round" stroke-width="1"/>
<ellipse cx="521.5" cy="685.5" rx="1.8" ry="3" stroke="#1a1a1a" fill="none" stroke-width="0.9" stroke-linejoin="round" stroke-linecap="round" stroke-width="1.2"/><ellipse cx="539.5" cy="697.5" rx="2.4" ry="2.8" stroke="#1a1a1a" fill="none" stroke-width="0.9" stroke-linejoin="round" stroke-linecap="round" stroke-width="1.2"/>
<path d="M556 686 L563 688 L564 694 L557 693Z" stroke="#1a1a1a" fill="#fff" stroke-width="1.4" stroke-linejoin="round" stroke-linecap="round" stroke-width="1.2"/>
<path d="M515 725 L535 709 M540 705.5 L558 690.8" stroke="#222" stroke-width="1.3" stroke-dasharray="3.5 2" fill="none"/>
<path d="M499 733.5 L511 725.5 C513.5 724.5 515.5 727.5 514 729.5 L504 740Z" stroke="#1a1a1a" fill="#fff" stroke-width="1.4" stroke-linejoin="round" stroke-linecap="round" stroke-width="1.3"/>
<path d="M503.5 731 L506 735 M506.5 729 L509 733 M509.5 727 L512 731" stroke="#1a1a1a" fill="none" stroke-width="0.9" stroke-linejoin="round" stroke-linecap="round"/>
<ellipse cx="498.8" cy="738.8" rx="5.3" ry="5.8" transform="rotate(-30 498.8 738.8)" stroke="#1a1a1a" fill="#fff" stroke-width="1.4" stroke-linejoin="round" stroke-linecap="round" stroke-width="1.6"/>
<ellipse cx="498.3" cy="738.6" rx="3.3" ry="3.8" transform="rotate(-30 498.3 738.6)" stroke="#1a1a1a" fill="none" stroke-width="0.9" stroke-linejoin="round" stroke-linecap="round"/>
<circle cx="497.6" cy="738" r="0.9" fill="#111"/>
<path d="M680.5 480.5 C679.5 479 680.5 477.5 682 477 L690 475 L691 483 L683 484 C681.5 484 680.5 482.5 680.5 480.5Z" stroke="#1a1a1a" fill="#fff" stroke-width="1.4" stroke-linejoin="round" stroke-linecap="round" stroke-width="1.4"/>
<path d="M684.5 477 L685 483.5 M687.5 476.2 L688 483.2" stroke="#1a1a1a" fill="none" stroke-width="0.9" stroke-linejoin="round" stroke-linecap="round"/>
<ellipse cx="695.3" cy="479" rx="4.8" ry="6.8" transform="rotate(-10 695.3 479)" stroke="#1a1a1a" fill="#fff" stroke-width="1.4" stroke-linejoin="round" stroke-linecap="round" stroke-width="2.2"/><ellipse cx="693.8" cy="479.2" rx="2.4" ry="4.8" transform="rotate(-10 693.8 479.2)" stroke="#1a1a1a" fill="none" stroke-width="0.9" stroke-linejoin="round" stroke-linecap="round" stroke-width="1.1"/>
<ellipse cx="714.5" cy="472" rx="6.3" ry="7.3" transform="rotate(-20 714.5 472)" stroke="#1a1a1a" fill="#fff" stroke-width="1.4" stroke-linejoin="round" stroke-linecap="round" stroke-width="2"/>
<ellipse cx="714" cy="472.2" rx="2.6" ry="3" fill="#999" stroke="#1a1a1a" stroke-width="1.2"/>
<path d="M725.5 467 L741 462 L742 467 L726.5 471.5 C724 472 723.5 467.8 725.5 467Z" stroke="#1a1a1a" fill="#fff" stroke-width="1.4" stroke-linejoin="round" stroke-linecap="round" stroke-width="1.3"/>
<path d="M729 466 L730 470.5 M732 465 L733 469.6 M735 464 L736 468.7 M738 463 L739 467.8" stroke="#1a1a1a" stroke-width="1.3" fill="none"/>
<path d="M740.5 457.5 C742 455 747.5 454.5 749.5 457 C751.5 460 751 464.5 748.5 466.5 C746 468 742.5 468 741.5 466Z" stroke="#1a1a1a" fill="#fff" stroke-width="1.4" stroke-linejoin="round" stroke-linecap="round" stroke-width="2"/>
<path d="M744 456 L745.5 467 M747 455.5 L748.5 466.5" stroke="#1a1a1a" fill="none" stroke-width="0.9" stroke-linejoin="round" stroke-linecap="round" stroke-width="1.1"/>
<path d="M760 449.5 C761 447 766.5 446.5 770 448.5 C773 450.5 773.5 456 771.5 459 C769 461.5 763.5 462 761 459.5 C758.5 457 758.5 452 760 449.5Z" stroke="#1a1a1a" fill="#fff" stroke-width="1.4" stroke-linejoin="round" stroke-linecap="round" stroke-width="2"/>
<ellipse cx="764.3" cy="454" rx="3.2" ry="5" transform="rotate(-15 764.3 454)" stroke="#1a1a1a" fill="none" stroke-width="0.9" stroke-linejoin="round" stroke-linecap="round" stroke-width="1.2"/>
<path d="M762.5 451 L766 456" stroke="#1a1a1a" fill="none" stroke-width="0.9" stroke-linejoin="round" stroke-linecap="round"/>
<ellipse cx="672" cy="552.5" rx="6.3" ry="3.8" transform="rotate(-20 672 552.5)" stroke="#1a1a1a" fill="#fff" stroke-width="1.4" stroke-linejoin="round" stroke-linecap="round" stroke-width="1.8"/>
<path d="M668 553.5 L670 551.5 M672.5 553 L675 551" stroke="#1a1a1a" fill="none" stroke-width="0.9" stroke-linejoin="round" stroke-linecap="round" stroke-width="1.2"/>
<ellipse cx="669.5" cy="546.3" rx="9.4" ry="4.8" transform="rotate(-20 669.5 546.3)" stroke="#1a1a1a" fill="#fff" stroke-width="1.4" stroke-linejoin="round" stroke-linecap="round" stroke-width="1.9"/>
<path d="M661.5 549 C666 549 672 547 677.5 544" stroke="#1a1a1a" fill="none" stroke-width="0.9" stroke-linejoin="round" stroke-linecap="round" stroke-width="1.1"/>
<path d="M661.5 541.5 C661 538.5 663 536.5 666 536.3 C668.5 536.3 670 538 670.3 540 L670.5 545 C668 547 664 547.5 662 546.5 Z" stroke="#1a1a1a" fill="#fff" stroke-width="1.4" stroke-linejoin="round" stroke-linecap="round" stroke-width="1.8"/>
<path d="M663.5 540.5 L665 540" stroke="#1a1a1a" fill="none" stroke-width="0.9" stroke-linejoin="round" stroke-linecap="round"/>
<path class="ld" d="M493.75 373V384M25 435V467M72 435V467M140.5 472V506M209 503V538M263 503V545M687.6 488V502M717.6 482V502M743.6 470V502M771.4 462V502M65 534V567M403 585V599M505.6 566.5V600.6M675.6 558V572M107 625.7V641M143 625.7V641M456 752V771M511 737V768M286.8 752.5V786.6M592 341V375M612.6 277H652.5M698 389H722M200 584H215.5M324 589.2H339M200 610H215.5M337.5 641H361M464 646H490M342.5 691H382.5M568 701.4H584M277 698.3H294"/>

<path d="M659.4 252.2V246.7H742.4V272.5M700.5 246.7V241" stroke="#333" stroke-width="1.5" fill="none"/>
<rect x="481.9" y="347.7" width="20" height="23.4" rx="3.5" ry="3.5" fill="#fff" stroke="#e9c73d" stroke-width="5"/>
<g class="lb">
<text x="688.88" y="237.5" style="fill:#d4d4d4;stroke:#d4d4d4;stroke-width:0.35px">3</text>
<path d="M395 0 L255 0 L255 455 L100 455 L100 555 C178 558 230 588 252 648 L264 700 L395 700 Z" transform="translate(700.00 237.5) scale(0.0200 -0.0200)" fill="#d4d4d4" stroke="#d4d4d4" stroke-width="17.5"/>
<text x="654.38" y="282.0" style="fill:#111;stroke:#111;stroke-width:0.35px">2</text>
<path d="M395 0 L255 0 L255 455 L100 455 L100 555 C178 558 230 588 252 648 L264 700 L395 700 Z" transform="translate(665.50 282.0) scale(0.0200 -0.0200)" fill="#111" stroke="#111" stroke-width="17.5"/>
<path d="M395 0 L255 0 L255 455 L100 455 L100 555 C178 558 230 588 252 648 L264 700 L395 700 Z" transform="translate(582.88 395.0) scale(0.0200 -0.0200)" fill="#111" stroke="#111" stroke-width="17.5"/>
<text x="594.00" y="395.0" style="fill:#111;stroke:#111;stroke-width:0.35px">9</text>
<text x="723.13" y="395.5" style="fill:#111;stroke:#111;stroke-width:0.35px">2</text>
<text x="734.25" y="395.5" style="fill:#111;stroke:#111;stroke-width:0.35px">0</text>
<path d="M395 0 L255 0 L255 455 L100 455 L100 555 C178 558 230 588 252 648 L264 700 L395 700 Z" transform="translate(14.88 432.0) scale(0.0200 -0.0200)" fill="#111" stroke="#111" stroke-width="17.5"/>
<text x="26.00" y="432.0" style="fill:#111;stroke:#111;stroke-width:0.35px">5</text>
<text x="60.38" y="432.0" style="fill:#111;stroke:#111;stroke-width:0.35px">2</text>
<text x="71.50" y="432.0" style="fill:#111;stroke:#111;stroke-width:0.35px">8</text>
<path d="M395 0 L255 0 L255 455 L100 455 L100 555 C178 558 230 588 252 648 L264 700 L395 700 Z" transform="translate(128.88 469.5) scale(0.0200 -0.0200)" fill="#111" stroke="#111" stroke-width="17.5"/>
<text x="140.00" y="469.5" style="fill:#111;stroke:#111;stroke-width:0.35px">4</text>
<text x="196.63" y="499.5" style="fill:#111;stroke:#111;stroke-width:0.35px">2</text>
<text x="207.75" y="499.5" style="fill:#111;stroke:#111;stroke-width:0.35px">9</text>
<path d="M395 0 L255 0 L255 455 L100 455 L100 555 C178 558 230 588 252 648 L264 700 L395 700 Z" transform="translate(250.88 500.0) scale(0.0200 -0.0200)" fill="#111" stroke="#111" stroke-width="17.5"/>
<path d="M395 0 L255 0 L255 455 L100 455 L100 555 C178 558 230 588 252 648 L264 700 L395 700 Z" transform="translate(262.00 500.0) scale(0.0200 -0.0200)" fill="#111" stroke="#111" stroke-width="17.5"/>
<text x="677.38" y="521.0" style="fill:#111;stroke:#111;stroke-width:0.35px">2</text>
<text x="688.50" y="521.0" style="fill:#111;stroke:#111;stroke-width:0.35px">2</text>
<text x="707.88" y="521.0" style="fill:#111;stroke:#111;stroke-width:0.35px">2</text>
<text x="719.00" y="521.0" style="fill:#111;stroke:#111;stroke-width:0.35px">4</text>
<text x="735.38" y="521.0" style="fill:#111;stroke:#111;stroke-width:0.35px">2</text>
<text x="746.50" y="521.0" style="fill:#111;stroke:#111;stroke-width:0.35px">3</text>
<text x="761.38" y="521.0" style="fill:#111;stroke:#111;stroke-width:0.35px">2</text>
<text x="772.50" y="521.0" style="fill:#111;stroke:#111;stroke-width:0.35px">5</text>
<path d="M395 0 L255 0 L255 455 L100 455 L100 555 C178 558 230 588 252 648 L264 700 L395 700 Z" transform="translate(53.63 584.5) scale(0.0200 -0.0200)" fill="#111" stroke="#111" stroke-width="17.5"/>
<text x="64.75" y="584.5" style="fill:#111;stroke:#111;stroke-width:0.35px">8</text>
<path d="M395 0 L255 0 L255 455 L100 455 L100 555 C178 558 230 588 252 648 L264 700 L395 700 Z" transform="translate(178.13 591.0) scale(0.0200 -0.0200)" fill="#111" stroke="#111" stroke-width="17.5"/>
<text x="189.25" y="591.0" style="fill:#111;stroke:#111;stroke-width:0.35px">2</text>
<text x="312.69" y="594.5" style="fill:#111;stroke:#111;stroke-width:0.35px">7</text>
<path d="M395 0 L255 0 L255 455 L100 455 L100 555 C178 558 230 588 252 648 L264 700 L395 700 Z" transform="translate(391.93 582.0) scale(0.0200 -0.0200)" fill="#111" stroke="#111" stroke-width="17.5"/>
<text x="403.05" y="582.0" style="fill:#111;stroke:#111;stroke-width:0.35px">6</text>
<text x="501.44" y="618.5" style="fill:#111;stroke:#111;stroke-width:0.35px">3</text>
<text x="666.38" y="589.0" style="fill:#111;stroke:#111;stroke-width:0.35px">2</text>
<text x="677.50" y="589.0" style="fill:#111;stroke:#111;stroke-width:0.35px">6</text>
<text x="101.24" y="623.0" style="fill:#111;stroke:#111;stroke-width:0.35px">9</text>
<text x="137.04" y="623.0" style="fill:#111;stroke:#111;stroke-width:0.35px">2</text>
<text x="176.38" y="616.0" style="fill:#111;stroke:#111;stroke-width:0.35px">2</text>
<text x="187.50" y="616.0" style="fill:#111;stroke:#111;stroke-width:0.35px">7</text>
<path d="M395 0 L255 0 L255 455 L100 455 L100 555 C178 558 230 588 252 648 L264 700 L395 700 Z" transform="translate(315.13 649.0) scale(0.0200 -0.0200)" fill="#111" stroke="#111" stroke-width="17.5"/>
<text x="326.25" y="649.0" style="fill:#111;stroke:#111;stroke-width:0.35px">3</text>
<path d="M395 0 L255 0 L255 455 L100 455 L100 555 C178 558 230 588 252 648 L264 700 L395 700 Z" transform="translate(438.18 654.0) scale(0.0200 -0.0200)" fill="#111" stroke="#111" stroke-width="17.5"/>
<text x="449.30" y="654.0" style="fill:#111;stroke:#111;stroke-width:0.35px">0</text>
<text x="327.19" y="697.5" style="fill:#111;stroke:#111;stroke-width:0.35px">5</text>
<text x="587.69" y="708.0" style="fill:#111;stroke:#111;stroke-width:0.35px">6</text>
<text x="265.19" y="705.0" style="fill:#111;stroke:#111;stroke-width:0.35px">4</text>
<text x="445.38" y="791.0" style="fill:#d4d4d4;stroke:#d4d4d4;stroke-width:0.35px">3</text>
<text x="456.50" y="791.0" style="fill:#d4d4d4;stroke:#d4d4d4;stroke-width:0.35px">0</text>
<path d="M395 0 L255 0 L255 455 L100 455 L100 555 C178 558 230 588 252 648 L264 700 L395 700 Z" transform="translate(500.88 787.5) scale(0.0200 -0.0200)" fill="#111" stroke="#111" stroke-width="17.5"/>
<text x="512.00" y="787.5" style="fill:#111;stroke:#111;stroke-width:0.35px">7</text>
<text x="281.69" y="803.0" style="fill:#111;stroke:#111;stroke-width:0.35px">8</text>
<path d="M395 0 L255 0 L255 455 L100 455 L100 555 C178 558 230 588 252 648 L264 700 L395 700 Z" transform="translate(487.04 366.0) scale(0.0200 -0.0200)" fill="#111" stroke="#111" stroke-width="17.5"/>

</g>
<rect x="655.6" y="693.2" width="135.8" height="97.6" fill="none" stroke="#555" stroke-width="1.1"/><path d="M655 791 H792" stroke="#333" stroke-width="1.6"/>
<ellipse cx="673.90" cy="801.60" rx="2.35" ry="4.45" fill="none" stroke="#2a2a2a" stroke-width="1.35"/>
<ellipse cx="680.50" cy="801.60" rx="2.35" ry="4.45" fill="none" stroke="#2a2a2a" stroke-width="1.35"/>
<ellipse cx="687.10" cy="801.60" rx="2.35" ry="4.45" fill="none" stroke="#2a2a2a" stroke-width="1.35"/>
<path d="M694.10 806.30 V797.00 L692.10 798.70" fill="none" stroke="#2a2a2a" stroke-width="1.35" stroke-linejoin="round"/>
<path d="M700.70 806.30 V797.00 L698.70 798.70" fill="none" stroke="#2a2a2a" stroke-width="1.35" stroke-linejoin="round"/>
<ellipse cx="706.90" cy="801.60" rx="2.35" ry="4.45" fill="none" stroke="#2a2a2a" stroke-width="1.35"/>
<ellipse cx="713.50" cy="801.60" rx="2.35" ry="4.45" fill="none" stroke="#2a2a2a" stroke-width="1.35"/>
<ellipse cx="720.10" cy="801.60" rx="2.35" ry="4.45" fill="none" stroke="#2a2a2a" stroke-width="1.35"/>
<path d="M747.8 699 L758.1 695.1 L765.9 697.8 L774.7 702.7 L783.5 708.6 L784.9 711 L778.6 713.4 L774.7 714.4 L771.8 712.5 L765.9 707.6 L759.1 703.7 L752.2 700.7Z" fill="#111"/>
<path d="M657.0 760.4 C658.3 758.3 661.1 751.6 664.8 747.7 C668.5 743.8 675.8 739.5 679.4 737.0 C683.0 734.5 682.2 736.1 686.3 733.0 C690.3 729.9 697.2 723.1 703.7 718.4 C710.2 713.7 719.8 707.6 725.0 704.7 C730.2 701.8 731.1 701.8 734.9 700.8 C738.7 699.8 745.5 699.2 747.6 698.9" stroke="#222" fill="none" stroke-width="1.1" stroke-linejoin="round" stroke-linecap="round"/>
<path d="M703.7 718.4 C705.8 719.7 711.8 723.6 716.0 726.0 C720.2 728.4 726.8 731.8 729.0 733.0" stroke="#222" fill="none" stroke-width="1.1" stroke-linejoin="round" stroke-linecap="round"/>
<path d="M686.3 736.0 C688.6 737.5 695.0 742.1 700.0 745.0 C705.0 747.9 713.8 752.1 716.5 753.5" stroke="#222" fill="none" stroke-width="1.1" stroke-linejoin="round" stroke-linecap="round"/>
<path d="M734.9 700.8 C737.1 701.7 744.0 703.7 748.0 706.0 C752.0 708.3 757.2 713.0 759.0 714.4" stroke="#222" fill="none" stroke-width="1.1" stroke-linejoin="round" stroke-linecap="round"/>
<path d="M759.0 714.4 C760.3 714.6 764.2 715.2 767.0 715.5 C769.8 715.8 774.2 715.8 775.7 715.9" stroke="#222" fill="none" stroke-width="1.1" stroke-linejoin="round" stroke-linecap="round"/>
<path d="M785.0 711.0 C785.4 712.2 786.5 716.4 787.4 718.3 C788.3 720.2 789.8 721.6 790.3 722.2" stroke="#222" fill="none" stroke-width="1.1" stroke-linejoin="round" stroke-linecap="round"/>
<path d="M778.6 731.0 C779.5 730.3 782.0 728.5 784.0 727.0 C786.0 725.5 789.2 723.0 790.3 722.2" stroke="#222" fill="none" stroke-width="1.1" stroke-linejoin="round" stroke-linecap="round"/>
<path d="M779.6 737.9 C780.5 736.9 783.2 734.6 785.0 732.0 C786.8 729.4 789.4 723.8 790.3 722.2" stroke="#222" fill="none" stroke-width="1.1" stroke-linejoin="round" stroke-linecap="round"/>
<path d="M729.0 733.0 C729.3 732.3 728.3 730.9 731.0 729.0 C733.7 727.1 740.7 723.2 745.0 721.5 C749.3 719.8 753.5 718.9 757.0 718.5 C760.5 718.1 764.1 718.5 765.9 719.3 C767.7 720.1 768.9 721.8 767.9 723.2 C766.9 724.7 763.8 725.5 760.0 728.0 C756.2 730.5 749.7 734.6 745.0 738.0 C740.3 741.4 735.2 746.2 731.7 748.6 C728.2 751.0 725.3 751.9 724.0 752.5" stroke="#222" fill="none" stroke-width="1.1" stroke-linejoin="round" stroke-linecap="round"/>
<path d="M729.0 733.0 C728.3 734.5 726.1 738.9 725.0 742.0 C723.9 745.1 722.7 750.0 722.2 751.6" stroke="#222" fill="none" stroke-width="1.1" stroke-linejoin="round" stroke-linecap="round"/>
<path d="M732.0 748.7 C734.2 747.3 740.3 743.5 745.0 740.5 C749.7 737.5 757.5 732.6 760.0 731.0" stroke="#222" fill="none" stroke-width="1.1" stroke-linejoin="round" stroke-linecap="round"/>
<path d="M664.8 763.3 C666.0 761.1 668.9 754.4 672.0 750.0 C675.1 745.6 681.4 739.2 683.3 737.0" stroke="#222" fill="none" stroke-width="1.1" stroke-linejoin="round" stroke-linecap="round"/>
<path d="M678.4 774.0 C681.2 772.3 688.6 767.4 695.0 764.0 C701.4 760.6 712.9 755.2 716.5 753.5" stroke="#222" fill="none" stroke-width="1.1" stroke-linejoin="round" stroke-linecap="round"/>
<path d="M690.0 771.0 C692.2 769.7 698.6 765.4 703.0 763.0 C707.4 760.6 714.2 757.6 716.4 756.5" stroke="#222" fill="none" stroke-width="1.1" stroke-linejoin="round" stroke-linecap="round"/>
<path d="M658.0 760.4 C658.2 761.8 657.1 765.9 659.0 769.0 C660.9 772.1 665.3 776.3 669.6 779.0 C673.9 781.7 681.3 783.7 685.0 785.0 C688.7 786.3 689.7 786.6 692.0 786.8 C694.3 786.9 697.7 786.1 698.8 786.0" stroke="#222" fill="none" stroke-width="1.1" stroke-linejoin="round" stroke-linecap="round"/>
<path d="M660.0 763.0 C661.3 764.3 665.0 768.8 668.0 771.0 C671.0 773.2 674.0 774.6 678.0 776.0 C682.0 777.4 688.3 779.0 692.0 779.5 C695.7 780.0 698.7 779.1 700.0 779.0" stroke="#222" fill="none" stroke-width="1.1" stroke-linejoin="round" stroke-linecap="round"/>
<path d="M716.4 777.0 C720.3 774.7 732.7 767.2 740.0 763.0 C747.3 758.8 756.7 753.5 760.0 751.6" stroke="#222" fill="none" stroke-width="1.1" stroke-linejoin="round" stroke-linecap="round"/>
<path d="M720.0 775.0 L740.0 764.0" stroke="#222" fill="none" stroke-width="1.1" stroke-linejoin="round" stroke-linecap="round"/>
<path d="M720.0 728.0 L728.8 733.0" stroke="#222" fill="none" stroke-width="1.1" stroke-linejoin="round" stroke-linecap="round"/>
<ellipse cx="707.6" cy="779" rx="8.6" ry="10.6" transform="rotate(20 707.6 779)" fill="#fff" stroke="#222" stroke-width="1.1" stroke-linejoin="round" stroke-linecap="round"/>
<ellipse cx="769.8" cy="743.7" rx="7.6" ry="10.6" transform="rotate(25 769.8 743.7)" fill="#fff" stroke="#222" stroke-width="1.1" stroke-linejoin="round" stroke-linecap="round"/>
<ellipse cx="687.2" cy="726.7" rx="1.6" ry="2.6" stroke="#222" fill="none" stroke-width="1.1" stroke-linejoin="round" stroke-linecap="round"/>
<ellipse cx="668.7" cy="769" rx="2.2" ry="1.6" stroke="#222" fill="none" stroke-width="1.1" stroke-linejoin="round" stroke-linecap="round"/><ellipse cx="674.5" cy="772" rx="2.2" ry="1.6" stroke="#222" fill="none" stroke-width="1.1" stroke-linejoin="round" stroke-linecap="round"/>
<path d="M722.5 751 L730 750 C732 751 732 753.5 730 753.5 L723 753Z" stroke="#222" fill="none" stroke-width="1.1" stroke-linejoin="round" stroke-linecap="round"/>
</svg>
</body></html>
